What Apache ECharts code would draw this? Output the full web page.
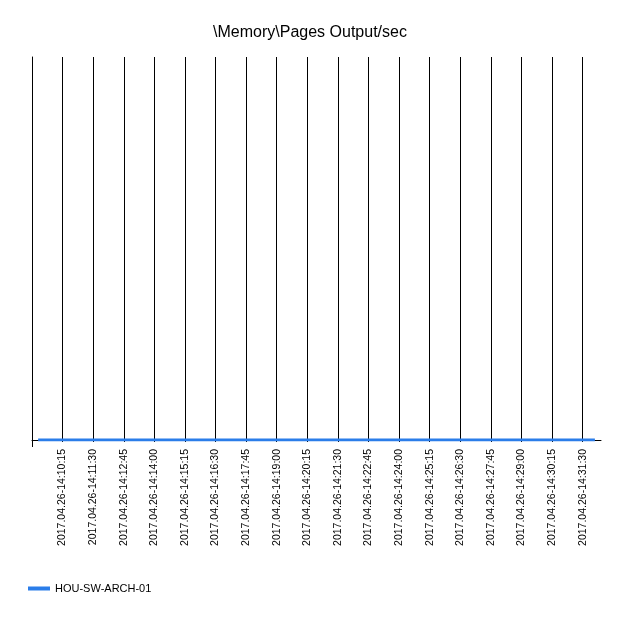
<!DOCTYPE html>
<html>
<head>
<meta charset="utf-8">
<script src="https://cdn.jsdelivr.net/npm/echarts@6/dist/echarts.min.js"></script>
<style>html,body{margin:0;padding:0;background:#fff}#c{width:620px;height:620px}</style>
</head>
<body>
<div id="c"></div>
<script>
// Tick labels shown on the x axis (every 75 s)
const tickLabels = [
  '2017.04.26-14:10:15','2017.04.26-14:11:30','2017.04.26-14:12:45','2017.04.26-14:14:00',
  '2017.04.26-14:15:15','2017.04.26-14:16:30','2017.04.26-14:17:45','2017.04.26-14:19:00',
  '2017.04.26-14:20:15','2017.04.26-14:21:30','2017.04.26-14:22:45','2017.04.26-14:24:00',
  '2017.04.26-14:25:15','2017.04.26-14:26:30','2017.04.26-14:27:45','2017.04.26-14:29:00',
  '2017.04.26-14:30:15','2017.04.26-14:31:30'
];
// Sample times of the series and values (all zero)
const sampleTimes = [
  '14:09:15','14:10:15','14:11:30','14:12:45','14:14:00','14:15:15','14:16:30','14:17:45',
  '14:19:00','14:20:15','14:21:30','14:22:45','14:24:00','14:25:15','14:26:30','14:27:45',
  '14:29:00','14:30:15','14:31:30','14:32:00'
];
const seriesValues = [0,0,0,0,0,0,0,0,0,0,0,0,0,0,0,0,0,0,0,0];
const seriesName = 'HOU-SW-ARCH-01';
const axisStart = '14:09:00';
const axisEnd = '14:32:15';

function toSec(t){const p=t.split(':').map(Number);return p[0]*3600+p[1]*60+p[2];}
const base = toSec(axisStart);
const axisMax = toSec(axisEnd)-base;
const data = sampleTimes.map((t,i)=>[toSec(t)-base, seriesValues[i]]);
const font = 'Liberation Sans, Arial, sans-serif';

const chart = echarts.init(document.getElementById('c'), null, {renderer:'canvas'});
chart.setOption({
  animation:false,
  backgroundColor:'#fff',
  title:{text:'\\Memory\\Pages Output/sec', left:'center', top:20,
    textStyle:{fontFamily:font, fontSize:16, fontWeight:'normal', color:'#000'}},
  grid:{left:32, right:19, top:57, bottom:180, containLabel:false},
  legend:{left:23, top:578, icon:'rect', itemWidth:22, itemHeight:4, itemGap:6,
    textStyle:{fontFamily:font, fontSize:11, color:'#000', padding:[0,0,0,0]},
    data:[seriesName]},
  xAxis:[{type:'value', min:0, max:axisMax, interval:75,
    axisLine:{show:true, onZero:false, lineStyle:{color:'#000', width:1}},
    axisTick:{show:true, length:2, lineStyle:{color:'#000'}},
    splitLine:{show:true, showMinLine:false, showMaxLine:false, lineStyle:{color:'#000', width:1}},
    axisLabel:{rotate:90, margin:9, fontFamily:font, fontSize:10.5, color:'#000',
      showMinLabel:false, showMaxLabel:false,
      formatter:function(v){const i=Math.round(v/75)-1;return (i>=0&&i<tickLabels.length)?tickLabels[i]:'';}}
  },{type:'value', min:0, max:axisMax, position:'bottom',
    axisLine:{show:false}, axisLabel:{show:false}, splitLine:{show:false},
    axisTick:{show:true, length:7, customValues:[0], lineStyle:{color:'#000'}}
  }],
  yAxis:{type:'value', min:0, max:1,
    axisLine:{show:true, lineStyle:{color:'#000', width:1}},
    axisTick:{show:false}, axisLabel:{show:false}, splitLine:{show:false}},
  series:[{name:seriesName, type:'line', data:data, showSymbol:false, symbol:'none',
    lineStyle:{color:'#2b7de9', width:3}, itemStyle:{color:'#2b7de9'}, z:1}]
});
</script>
</body>
</html>
